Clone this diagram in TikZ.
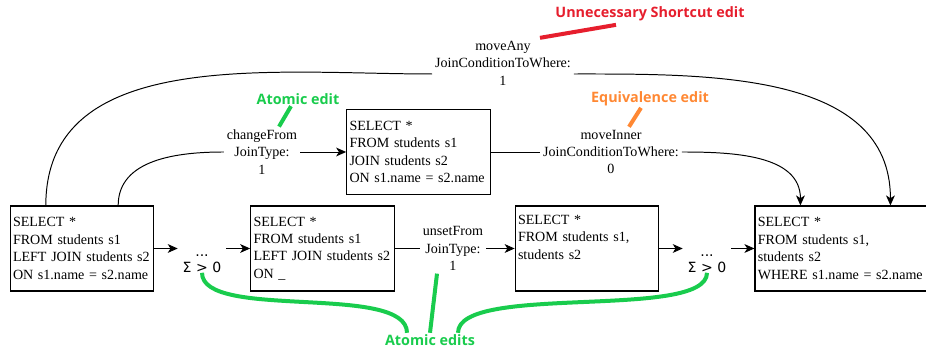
\documentclass[tikz,border=0pt]{standalone}
\usepackage{fontspec}
\setmainfont{Liberation Serif}
\newfontfamily\notefont{Open Sans}
\newfontfamily\symfont{DejaVu Sans}
\usepackage{xcolor}
\usepackage{tikz}
\usetikzlibrary{arrows.meta,positioning,calc}
\definecolor{atomgreen}{RGB}{25,204,77}
\definecolor{shortred}{RGB}{230,30,45}
\definecolor{equivorange}{RGB}{255,136,51}
\tikzset{
  query/.style={draw, line width=0.8pt, align=left, minimum height=2.125cm, text width=3.45cm,
    inner xsep=0.07cm, inner ysep=0pt, font=\fontsize{10}{12.4}\selectfont},
  elabel/.style={align=center, inner sep=2pt, fill=white, font=\fontsize{10}{12.4}\selectfont},
  line/.style={line width=0.7pt},
  flow/.style={line, -{Stealth[length=2.5mm, width=2.2mm, inset=0.7mm]}},
  tag/.style={font=\notefont\bfseries\fontsize{10.2}{11}\selectfont, inner sep=1pt},
  stroke/.style={line width=0.1cm}
}

\begin{document}
\begin{tikzpicture}[
    sigma/.style={align=center, inner sep=0pt, minimum width=1.2cm, font=\symfont\fontsize{10}{11.6}\selectfont}
  ]
    \path[use as bounding box] (0,0) rectangle (23.15,8.725);

    % queries
    \node[query] (A) at (2.05,2.5125) {SELECT *\\FROM students s1\\LEFT JOIN students s2\\ON s1.name = s2.name};
    \node[query] (B) at (8.0625,2.5125) {SELECT *\\FROM students s1\\LEFT JOIN students s2\\ON \_};
    \node[query] (C) at (10.4625,4.925) {SELECT *\\FROM students s1\\JOIN students s2\\ON s1.name = s2.name};
    \node[query] (D) at (14.675,2.5125) {SELECT *\\FROM students s1,\\students s2\\\strut};
    \node[query, text width=4.86cm] (E) at (21.375,2.5125) {SELECT *\\FROM students s1,\\students s2\\WHERE s1.name = s2.name};

    \node[sigma] (dots1) at (5.05,2.14) {...\\Σ > 0};
    \node[sigma] (dots2) at (17.675,2.14) {...\\Σ > 0};

    % edit labels
    \node[elabel] (lblChange) at (6.55,4.925) {changeFrom\\JoinType:\\1};
    \node[elabel] (lblInner) at (15.275,4.925) {moveInner\\JoinConditionToWhere:\\0};
    \node[elabel] (lblUnset) at (11.325,2.5125) {unsetFrom\\JoinType:\\1};
    \node[elabel] (lblAny) at (12.575,7.15) {moveAny\\JoinConditionToWhere:\\1};

    \coordinate (a1) at ($(A.north west)!.25!(A.north east)$);
    \coordinate (a2) at ($(A.north west)!.75!(A.north east)$);
    \coordinate (e1) at ($(E.north west)+(1.15,0)$);
    \coordinate (e2) at ($(E.north west)+(3.4,0)$);

    \draw[flow] (A) -- (A -| dots1.west);
    \draw[flow] (B -| dots1.east) -- (B);
    \draw[line] (B) -- (lblUnset);
    \draw[flow] (lblUnset) -- (D);
    \draw[flow] (D) -- (D -| dots2.west);
    \draw[flow] (E -| dots2.east) -- (E.west |- D);

    \draw[line] (a2) to[out=90,in=180] (lblChange.west);
    \draw[flow] (lblChange) -- (C);
    \draw[line] (C) -- (lblInner);
    \draw[flow] (lblInner.east) to[out=0,in=90] (e1);
    \draw[line] (a1) to[out=90,in=180] ([yshift=-0.275cm]lblAny.west);
    \draw[flow] ([yshift=-0.275cm]lblAny.east) to[out=0,in=90] (e2);

    % kinds of edit
    \node[tag, text=shortred] (noteShort) at (16.25,8.375) {Unnecessary Shortcut edit};
    \node[tag, text=equivorange] (noteEq) at (16.25,6.25) {Equivalence edit};
    \node[tag, text=atomgreen] (noteAtom) at (7.45,6.25) {Atomic edit};
    \node[tag, text=atomgreen] (noteAtoms) at (10.75,0.225) {Atomic edits};

    \draw[stroke, shortred] ([xshift=0.925cm]lblAny.north) -- ([xshift=-0.85cm,yshift=-0.05cm]noteShort.south);
    \draw[stroke, equivorange] ([xshift=0.45cm]lblInner.north) -- ([xshift=-0.225cm]noteEq.south);
    \draw[stroke, atomgreen] ([xshift=0.425cm]lblChange.north) -- ([xshift=-0.175cm]noteAtom.south);
    \draw[stroke, atomgreen] ([xshift=-0.4cm]lblUnset.south) -- (noteAtoms.north);
    \draw[stroke, atomgreen] (dots1.south) .. controls +(0,-1.2) and +(0,1.25) .. ([xshift=-0.575cm]noteAtoms.north);
    \draw[stroke, atomgreen] (dots2.south) .. controls +(0,-1.2) and +(0,1.25) .. ([xshift=0.7cm]noteAtoms.north);
  \end{tikzpicture}
\end{document}
